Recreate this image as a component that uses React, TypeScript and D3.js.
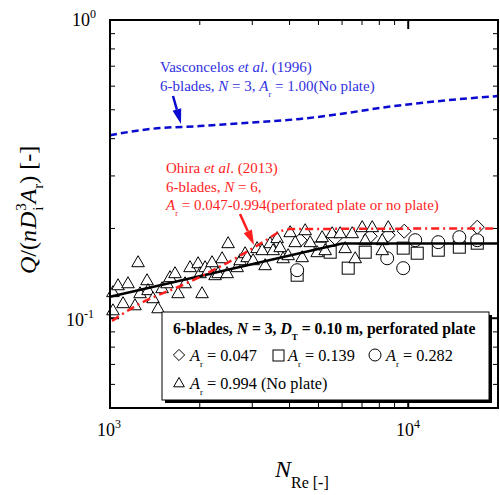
import React from 'react';
import * as d3 from 'd3';

const width = 500;
const height = 495;

// [Re, Q/(nDi^3 Ar)]
const triangles994 = [
  [1023, 0.1223], [1023, 0.1063], [1064, 0.129], [1106, 0.1123], [1149, 0.131],
  [1213, 0.1105], [1242, 0.1541], [1261, 0.1213], [1331, 0.1341], [1341, 0.1242],
  [1394, 0.1167], [1449, 0.108], [1495, 0.1261], [1553, 0.131], [1589, 0.1373],
  [1652, 0.1416], [1691, 0.1213], [1785, 0.131], [1855, 0.1483], [1974, 0.1529],
  [2004, 0.1416], [2035, 0.1213], [2084, 0.1483], [2133, 0.1449], [2199, 0.1541],
  [2251, 0.1394], [2304, 0.1416], [2376, 0.1589], [2470, 0.1416], [2489, 0.1785],
  [2669, 0.1483], [2731, 0.1565], [2838, 0.1652], [2883, 0.1602], [3019, 0.1565],
  [3113, 0.1718], [3236, 0.1691], [3312, 0.1506], [3443, 0.1785], [3524, 0.1691],
  [3634, 0.1856], [3720, 0.1731], [3807, 0.1589], [3957, 0.1627], [4018, 0.1943],
  [4177, 0.1799], [4409, 0.1602], [4513, 0.1973], [4690, 0.1799], [4951, 0.1665],
  [5145, 0.187], [5266, 0.1691], [5559, 0.1928], [5913, 0.1928], [6146, 0.1718],
  [6488, 0.1928], [6640, 0.1589], [7009, 0.202], [7174, 0.1827], [7573, 0.202],
  [8181, 0.1827], [8181, 0.1691], [8569, 0.202],
];
const diamonds047 = [
  [4341, 0.1827], [5689, 0.1856], [7456, 0.1884], [8569, 0.1899], [9697, 0.1958], [17041, 0.202],
];
const squares139 = [
  [4242, 0.1394], [5065, 0.1718], [5474, 0.1665], [6291, 0.1472], [7174, 0.1665],
  [9621, 0.1718], [10720, 0.1652], [12612, 0.1691], [14837, 0.1731], [17041, 0.1785],
];
const circles282 = [
  [4242, 0.1449], [8502, 0.1589], [9621, 0.1472], [10556, 0.1827], [12612, 0.1799],
  [14837, 0.187], [17041, 0.1827],
];
const fitLine = [[1000, 0.118], [6000, 0.178], [20000, 0.178]];
const ohira = [
  [1016, 0.098], [1261, 0.112], [1449, 0.1195], [1652, 0.126], [2280, 0.147],
  [2670, 0.16], [3260, 0.18], [3810, 0.197], [4018, 0.199], [20000, 0.2],
];
const vasconcelos = [
  [1000, 0.411], [1360, 0.431], [2000, 0.441], [3190, 0.455], [4340, 0.466],
  [5920, 0.484], [8040, 0.507], [11000, 0.527], [14900, 0.543], [20000, 0.556],
];

const xTicksMajor = [1000, 10000];
const xTicksMinor = [2000, 3000, 4000, 5000, 6000, 7000, 8000, 9000, 20000];
const yTicksMajor = [0.1, 1];
const yTicksMinor = [0.06, 0.07, 0.08, 0.09, 0.2, 0.3, 0.4, 0.5, 0.6, 0.7, 0.8, 0.9];

const x = d3.scaleLog().domain([1000, 20000]).range([110, 498]);
const y = d3.scaleLog().domain([0.05, 1]).range([408, 20]);

const serif = '"Liberation Serif", "Times New Roman", serif';
const blue = '#0a0ad0';
const blueText = '#3030e0';
const red = '#ff1e1e';

const line = d3.line<number[]>().x(d => x(d[0])).y(d => y(d[1]));
const smooth = d3.line<number[]>().x(d => x(d[0])).y(d => y(d[1])).curve(d3.curveMonotoneX);

const triPath = (s = 1) => `M0,${-6.5 * s}L${6.3 * s},${4.5 * s}L${-6.3 * s},${4.5 * s}Z`;
const diaPath = (s = 1) => `M0,${-7 * s}L${7 * s},0L0,${7 * s}L${-7 * s},0Z`;

const Ar = ({ v, size = 15 }: { v: string; size?: number }) => (
  <>
    <tspan fontStyle="italic">A</tspan>
    <tspan fontSize={size * 0.55} dy={6}>r</tspan>
    <tspan dy={-6}>{v}</tspan>
  </>
);

const Arrow = ({ x1, y1, x2, y2, color }: any) => {
  const a = Math.atan2(y2 - y1, x2 - x1);
  const L = 15, W = 4.5;
  const bx = x2 - L * Math.cos(a), by = y2 - L * Math.sin(a);
  const px = -Math.sin(a) * W, py = Math.cos(a) * W;
  return (
    <g>
      <line x1={x1} y1={y1} x2={bx} y2={by} stroke={color} strokeWidth={2.5} />
      <path d={`M${x2},${y2}L${bx + px},${by + py}L${bx - px},${by - py}Z`} fill={color} />
    </g>
  );
};

const App = () => {
  const [x0, x1] = x.range();
  const [y0, y1] = y.range();
  return (
    <svg width={width} height={height} style={{ position: 'absolute', left: 0, top: 0 }} fontFamily={serif}>
      <rect width={width} height={height} fill="#fff" />
      <g stroke="#000" strokeWidth={1}>
        {xTicksMinor.map(t => (
          <g key={'xm' + t}>
            <line x1={x(t)} x2={x(t)} y1={y0} y2={y0 - 5} />
            <line x1={x(t)} x2={x(t)} y1={y1} y2={y1 + 5} />
          </g>
        ))}
        {xTicksMajor.map(t => (
          <g key={'xM' + t} strokeWidth={2}>
            <line x1={x(t)} x2={x(t)} y1={y0} y2={y0 - 9} />
            <line x1={x(t)} x2={x(t)} y1={y1} y2={y1 + 9} />
          </g>
        ))}
        {yTicksMinor.map(t => (
          <g key={'ym' + t}>
            <line x1={x0} x2={x0 + 5} y1={y(t)} y2={y(t)} />
            <line x1={x1} x2={x1 - 5} y1={y(t)} y2={y(t)} />
          </g>
        ))}
        {yTicksMajor.map(t => (
          <g key={'yM' + t} strokeWidth={2}>
            <line x1={x0} x2={x0 + 9} y1={y(t)} y2={y(t)} />
            <line x1={x1} x2={x1 - 9} y1={y(t)} y2={y(t)} />
          </g>
        ))}
      </g>

      {/* markers */}
      <g stroke="#000" strokeWidth={1} fill="#fff">
        {squares139.map((d, i) => (
          <rect key={'s' + i} x={x(d[0]) - 6} y={y(d[1]) - 6} width={12} height={12} />
        ))}
        {circles282.map((d, i) => (
          <circle key={'c' + i} cx={x(d[0])} cy={y(d[1])} r={6.5} />
        ))}
        {diamonds047.map((d, i) => (
          <path key={'d' + i} transform={`translate(${x(d[0])},${y(d[1])})`} d={diaPath()} />
        ))}
        {triangles994.map((d, i) => (
          <path key={'t' + i} transform={`translate(${x(d[0])},${y(d[1])})`} d={triPath()} />
        ))}
      </g>

      <path d={line(fitLine) || ''} fill="none" stroke="#000" strokeWidth={2.5} />
      <path d={smooth(ohira) || ''} fill="none" stroke={red} strokeWidth={2.5} strokeDasharray="8 4 2 4" />
      <path d={smooth(vasconcelos) || ''} fill="none" stroke={blue} strokeWidth={2.5} strokeDasharray="7 4" />

      <rect x={x0} y={y1} width={x1 - x0} height={y0 - y1} fill="none" stroke="#000" strokeWidth={2} />

      {/* annotations */}
      <g fill={blueText} fontSize={15}>
        <text x={160} y={72}>Vasconcelos <tspan fontStyle="italic">et al</tspan>. (1996)</text>
        <text x={160} y={91}>6-blades, <tspan fontStyle="italic">N</tspan> = 3, <Ar v=" = 1.00(No plate)" /></text>
      </g>
      <Arrow x1={173} y1={96} x2={181} y2={124} color={blue} />
      <g fill={red} fontSize={15}>
        <text x={166} y={173}>Ohira <tspan fontStyle="italic">et al</tspan>. (2013)</text>
        <text x={166} y={192}>6-blades, <tspan fontStyle="italic">N</tspan> = 6,</text>
        <text x={166} y={210}><Ar v=" = 0.047-0.994(perforated plate or no plate)" /></text>
      </g>
      <Arrow x1={240} y1={214} x2={254} y2={245} color={red} />

      {/* legend */}
      <rect x={165} y={315} width={327} height={88} fill="#000" />
      <rect x={162} y={312} width={327} height={88} fill="#fff" stroke="#000" strokeWidth={1} />
      <text x={173} y={334} fontSize={15.7} fontWeight="bold">
        6-blades, <tspan fontStyle="italic">N</tspan> = 3, <tspan fontStyle="italic">D</tspan>
        <tspan fontSize={9} dy={6}>T</tspan><tspan dy={-6}> = 0.10 m, perforated plate</tspan>
      </text>
      <g stroke="#000" strokeWidth={1} fill="#fff">
        <path transform="translate(179,355)" d={diaPath(0.8)} />
        <rect x={273} y={350} width={11} height={11} />
        <circle cx={375} cy={355} r={6} />
        <path transform="translate(179,383)" d={triPath(0.85)} />
      </g>
      <g fontSize={16.3}>
        <text x={190} y={361}><Ar v=" = 0.047" size={16} /></text>
        <text x={288} y={361}><Ar v=" = 0.139" size={16} /></text>
        <text x={386} y={361}><Ar v=" = 0.282" size={16} /></text>
        <text x={190} y={389}><Ar v=" = 0.994 (No plate)" size={16} /></text>
      </g>

      {/* tick labels */}
      <g fontSize={18}>
        <text x={72} y={26}>10<tspan fontSize={12} dy={-8}>0</tspan></text>
        <text x={66} y={326}>10<tspan fontSize={12} dy={-8}>-1</tspan></text>
        <text x={97} y={436}>10<tspan fontSize={12} dy={-8}>3</tspan></text>
        <text x={396} y={436}>10<tspan fontSize={12} dy={-8}>4</tspan></text>
      </g>

      {/* axis titles */}
      <text x={275} y={477} fontSize={24} fontStyle="italic">N<tspan fontStyle="normal" fontSize={16} dy={11}>Re [-]</tspan></text>
      <text transform="translate(36,274) rotate(-90)" fontSize={24}>
        <tspan fontStyle="italic">Q</tspan>/(<tspan fontStyle="italic">n</tspan><tspan fontStyle="italic" dx={1}>D</tspan>
        <tspan fontSize={15} dx={1} dy={-10}>3</tspan>
        <tspan fontSize={15} dx={-7.5} dy={17}>i</tspan>
        <tspan fontStyle="italic" dx={3} dy={-7}>A</tspan>
        <tspan fontSize={15} dy={7}>r</tspan>
        <tspan dy={-7}>) [-]</tspan>
      </text>
    </svg>
  );
};

export default App;
